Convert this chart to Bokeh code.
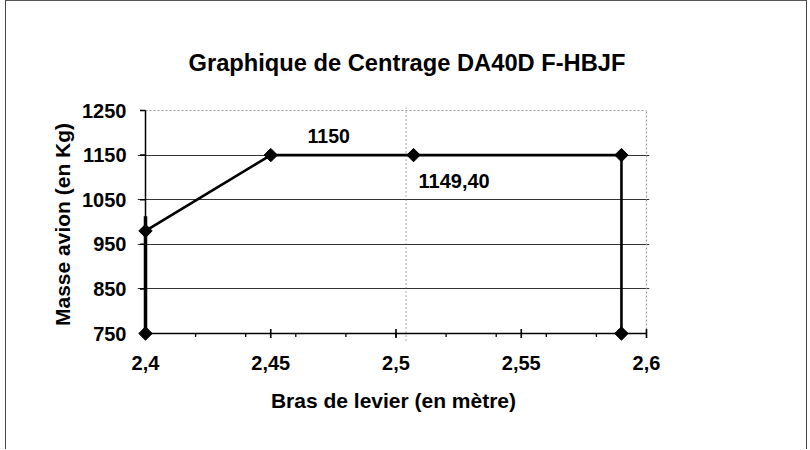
from bokeh.plotting import figure
from bokeh.models import Range1d, FixedTicker, CustomJSTickFormatter, Span, Label
from bokeh.embed import file_html
from bokeh.resources import INLINE

# ---- data ----
x_env = [2.40, 2.40, 2.45, 2.507, 2.59, 2.59]
y_env = [750, 980, 1150, 1150, 1150, 750]
x_front = [2.40, 2.40]
y_front = [750, 1013]
cg_x = 2.504
x_ticks = [2.40, 2.45, 2.50, 2.55, 2.60]
x_minor = [2.42, 2.44, 2.46, 2.48, 2.50, 2.52, 2.54, 2.56, 2.58]
y_ticks = [750, 850, 950, 1050, 1150, 1250]
label_a_text = "1150"
label_a_x, label_a_y = 2.45, 1150
label_b_text = "1149,40"
label_b_x, label_b_y = 2.507, 1150

x_min, x_max = 2.40, 2.60
y_min, y_max = 750, 1250

# ---- geometry (content starts 6px right / 1px below window origin) ----
W, H = 802, 449
mb_left, mb_top = 131, 106
frame_w, frame_h = 512, 234
mb_right = W - mb_left - frame_w
mb_bottom = H - mb_top - frame_h
pad_l, pad_r, pad_b, pad_t = 8, 3, 8, 3
xs = (frame_w - pad_l - pad_r) / (x_max - x_min)
ys = (frame_h - pad_b - pad_t) / (y_max - y_min)

FONT = "Liberation Sans"

p = figure(width=W, height=H, output_backend="svg", toolbar_location=None,
           x_range=Range1d(x_min - pad_l / xs, x_max + pad_r / xs),
           y_range=Range1d(y_min - pad_b / ys, y_max + pad_t / ys),
           min_border_left=mb_left, min_border_right=mb_right,
           min_border_top=mb_top, min_border_bottom=mb_bottom,
           title="Graphique de Centrage DA40D F-HBJF",
           styles={"margin-left": "5px", "border-left": "1px solid #444",
                   "border-top": "1px solid #555", "border-right": "1px solid #444"})
p.background_fill_color = "white"
p.border_fill_color = "white"
p.outline_line_color = None

p.title.align = "left"
p.title.offset = 51
p.title.standoff = 64
p.title.text_font = FONT
p.title.text_font_size = "23.7px"
p.title.text_font_style = "bold"
p.title.text_color = "black"

fmt = CustomJSTickFormatter(code="return tick.toString().replace('.', ',');")

# axes sit on the frame edges (only labels used); lines and ticks are drawn
# as glyphs at the true axis positions
xa = p.xaxis[0]
xa.ticker = FixedTicker(ticks=x_ticks, minor_ticks=[])
xa.formatter = fmt
xa.axis_line_color = None
xa.major_tick_line_color = None
xa.major_tick_in = 0
xa.major_tick_out = 0
xa.minor_tick_line_color = None
xa.axis_label = "Bras de levier (en mètre)"
xa.axis_label_text_font = FONT
xa.axis_label_text_font_size = "21px"
xa.axis_label_text_font_style = "bold"
xa.axis_label_text_color = "black"
xa.axis_label_standoff = 16
xa.major_label_text_font = FONT
xa.major_label_text_font_size = "20px"
xa.major_label_text_font_style = "bold"
xa.major_label_text_color = "black"
xa.major_label_standoff = 14

ya = p.yaxis[0]
ya.ticker = FixedTicker(ticks=y_ticks, minor_ticks=[])
ya.axis_line_color = None
ya.major_tick_line_color = None
ya.major_tick_in = 0
ya.major_tick_out = 0
ya.minor_tick_line_color = None
ya.axis_label = "Masse avion (en Kg)"
ya.axis_label_text_font = FONT
ya.axis_label_text_font_size = "21px"
ya.axis_label_text_font_style = "bold"
ya.axis_label_text_color = "black"
ya.axis_label_standoff = 5
ya.major_label_text_font = FONT
ya.major_label_text_font_size = "20px"
ya.major_label_text_font_style = "bold"
ya.major_label_text_color = "black"
ya.major_label_standoff = 11

p.xgrid.visible = False
p.ygrid.ticker = FixedTicker(ticks=[t for t in y_ticks if y_min < t < y_max])
p.ygrid.bounds = (x_min, x_max)
p.ygrid.grid_line_color = "#333333"
p.ygrid.grid_line_width = 1

# plot-area border (top and right), dotted grey
p.line([x_min, x_max], [y_max, y_max], line_color="#9a9a9a", line_width=1.2, line_dash="2 2")
p.line([x_max, x_max], [y_min, y_max], line_color="#9a9a9a", line_width=1.2, line_dash="2 2")

# axis lines and tick marks at the true axis positions
p.line([x_min, x_max], [y_min, y_min], line_color="black", line_width=1.5)
p.line([x_min, x_min], [y_min, y_max], line_color="black", line_width=1.5)
p.segment(x0=x_ticks, y0=[y_min - 4.5 / ys] * len(x_ticks),
          x1=x_ticks, y1=[y_min + 4.5 / ys] * len(x_ticks),
          line_color="black", line_width=1.6)
p.segment(x0=x_minor, y0=[y_min - 3.5 / ys] * len(x_minor),
          x1=x_minor, y1=[y_min] * len(x_minor),
          line_color="black", line_width=1.3)
p.segment(x0=[x_min - 5.5 / xs] * len(y_ticks), y0=y_ticks,
          x1=[x_min] * len(y_ticks), y1=y_ticks,
          line_color="black", line_width=1.6)

# centre of gravity reference line
p.add_layout(Span(location=cg_x, dimension="height", line_color="#555555",
                  line_width=1, line_dash="1 3"))

p.line(x_front, y_front, line_color="black", line_width=3.5)
p.line(x_env, y_env, line_color="black", line_width=2.6)
p.scatter(x_env, y_env, marker="square", angle=0.785398, size=9.5,
          fill_color="black", line_color="black")

p.add_layout(Label(x=label_a_x, y=label_a_y, text=label_a_text, x_offset=58, y_offset=19,
                   text_align="center", text_baseline="middle", text_font=FONT,
                   text_font_size="19.5px", text_font_style="bold", text_color="black"))
p.add_layout(Label(x=label_b_x, y=label_b_y, text=label_b_text, x_offset=5, y_offset=-26,
                   text_align="left", text_baseline="middle", text_font=FONT,
                   text_font_size="20px", text_font_style="bold", text_color="black"))

open("out.html", "w").write(file_html(p, INLINE))
